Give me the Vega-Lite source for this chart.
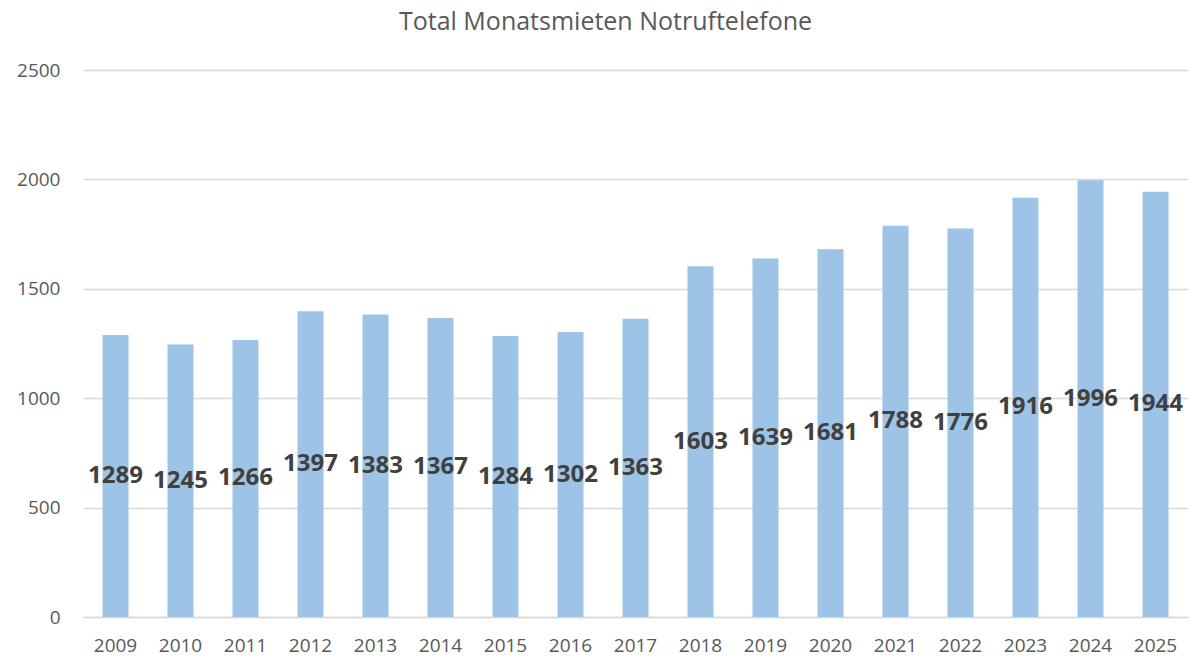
{
  "$schema": "https://vega.github.io/schema/vega-lite/v6.json",
  "width": 1105,
  "height": 547,
  "autosize": {"type": "none"},
  "padding": {"left": 83, "top": 70, "right": 8, "bottom": 44},
  "background": "white",
  "config": {
    "view": {"stroke": null},
    "font": "Open Sans"
  },
  "title": {
    "text": "Total Monatsmieten Notruftelefone",
    "fontSize": 25,
    "fontWeight": "normal",
    "color": "#595959",
    "font": "Open Sans",
    "anchor": "middle",
    "dx": -30,
    "offset": 26
  },
  "data": {
    "values": [
      {"Jahr": "2009", "Mieten": 1289},
      {"Jahr": "2010", "Mieten": 1245},
      {"Jahr": "2011", "Mieten": 1266},
      {"Jahr": "2012", "Mieten": 1397},
      {"Jahr": "2013", "Mieten": 1383},
      {"Jahr": "2014", "Mieten": 1367},
      {"Jahr": "2015", "Mieten": 1284},
      {"Jahr": "2016", "Mieten": 1302},
      {"Jahr": "2017", "Mieten": 1363},
      {"Jahr": "2018", "Mieten": 1603},
      {"Jahr": "2019", "Mieten": 1639},
      {"Jahr": "2020", "Mieten": 1681},
      {"Jahr": "2021", "Mieten": 1788},
      {"Jahr": "2022", "Mieten": 1776},
      {"Jahr": "2023", "Mieten": 1916},
      {"Jahr": "2024", "Mieten": 1996},
      {"Jahr": "2025", "Mieten": 1944}
    ]
  },
  "encoding": {
    "x": {
      "field": "Jahr",
      "type": "ordinal",
      "scale": {"paddingInner": 0.6, "paddingOuter": 0.3},
      "axis": {
        "title": null,
        "labelAngle": 0,
        "labelFontSize": 19,
        "labelColor": "#595959",
        "labelPadding": 19,
        "ticks": false,
        "domainColor": "#d9d9d9",
        "domainWidth": 1.5,
        "grid": false
      }
    }
  },
  "layer": [
    {
      "mark": {"type": "bar", "color": "#9DC3E6"},
      "encoding": {
        "y": {
          "field": "Mieten",
          "type": "quantitative",
          "scale": {"domain": [0, 2500], "nice": false},
          "axis": {
            "title": null,
            "values": [0, 500, 1000, 1500, 2000, 2500],
            "format": "d",
            "labelFontSize": 19,
            "labelColor": "#595959",
            "labelPadding": 23,
            "ticks": false,
            "domain": false,
            "gridColor": "#d9d9d9",
            "gridWidth": 1.5
          }
        }
      }
    },
    {
      "mark": {"type": "text", "fontWeight": "bold", "fontSize": 24, "color": "#404040", "baseline": "middle", "align": "center"},
      "encoding": {
        "y": {
          "field": "Mieten",
          "type": "quantitative",
          "scale": {"domain": [0, 5000], "nice": false},
          "axis": null
        },
        "text": {"field": "Mieten", "type": "quantitative", "format": "d"}
      }
    }
  ],
  "resolve": {"scale": {"y": "independent"}}
}
